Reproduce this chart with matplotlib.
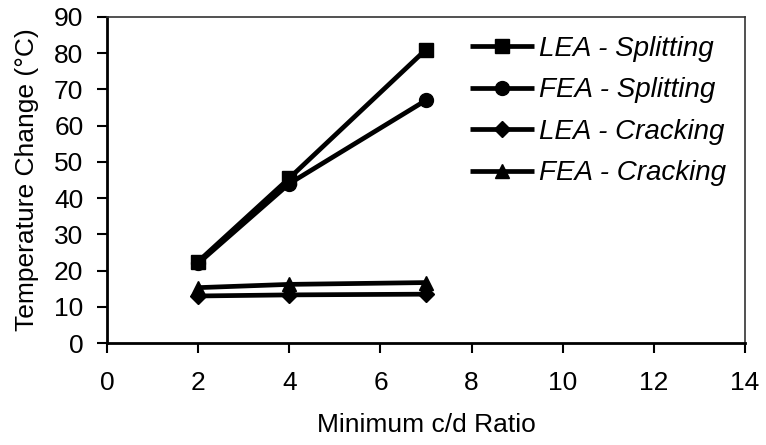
import matplotlib
matplotlib.use("Agg")
import matplotlib.pyplot as plt

plt.rcParams['font.family'] = ['Liberation Sans', 'DejaVu Sans']

cd_ratio = [2, 4, 7]
lea_splitting = [22.5, 45.5, 81.0]
fea_splitting = [22.0, 44.0, 67.0]
lea_cracking = [13.0, 13.3, 13.5]
fea_cracking = [15.3, 16.2, 16.7]

series = [
    ("LEA - Splitting", lea_splitting, "s", 10),
    ("FEA - Splitting", fea_splitting, "o", 10),
    ("LEA - Cracking", lea_cracking, "D", 8),
    ("FEA - Cracking", fea_cracking, "^", 10),
]

x_ticks = [0, 2, 4, 6, 8, 10, 12, 14]
y_ticks = [0, 10, 20, 30, 40, 50, 60, 70, 80, 90]

fig = plt.figure(figsize=(7.66, 4.45), dpi=100)
ax = fig.add_axes([0.1397, 0.229, 0.8329, 0.733])

for label, vals, mk, ms in series:
    ax.plot(cd_ratio, vals, color="black", lw=3.4, marker=mk, ms=ms,
            label=label, solid_capstyle="butt")

ax.set_xlim(0, 14)
ax.set_ylim(0, 90)
ax.set_xticks(x_ticks)
ax.set_yticks(y_ticks)
ax.tick_params(axis="both", direction="out", length=7, width=1.5,
               labelsize=19, colors="black")
ax.tick_params(axis="y", pad=10)
ax.tick_params(axis="x", pad=13)

for side in ("left", "bottom"):
    ax.spines[side].set_linewidth(2.0)
for side in ("top", "right"):
    ax.spines[side].set_linewidth(1.2)
    ax.spines[side].set_color("#333333")

ax.set_xlabel("Minimum c/d Ratio", fontsize=19, labelpad=13)
ax.set_ylabel("Temperature Change (°C)", fontsize=19, labelpad=11)

leg = ax.legend(loc="upper right", frameon=False, handlelength=2.3,
                handletextpad=0.18, labelspacing=0.56, borderaxespad=0.28,
                prop={"size": 20, "style": "italic"})

fig.savefig("out.png", dpi=100)
